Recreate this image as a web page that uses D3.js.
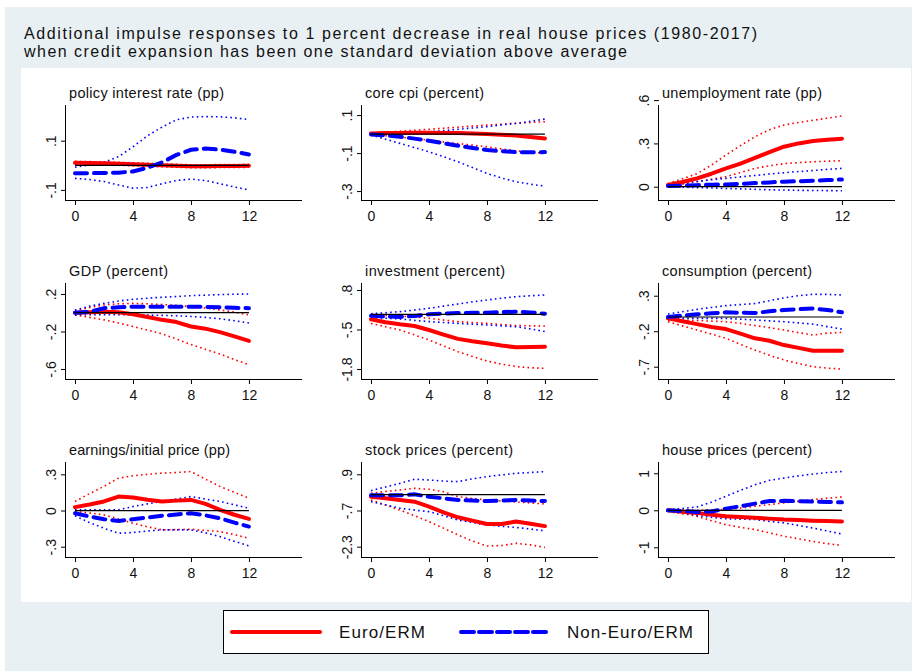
<!DOCTYPE html>
<html><head><meta charset="utf-8">
<script src="https://cdn.jsdelivr.net/npm/d3@7"></script>
<style>body{margin:0;background:#fff}svg{display:block;font-family:Arial,"Liberation Sans",sans-serif}</style>
</head><body><svg id="c" width="912" height="671"></svg>
<script>
const horizons = [0,1,2,3,4,5,6,7,8,9,10,11,12];
const xTicks = [0,4,8,12];
const titleLines = ["Additional impulse responses to 1 percent decrease in real house prices (1980-2017)",
  "when credit expansion has been one standard deviation above average"];
const legendLabels = ["Euro/ERM","Non-Euro/ERM"];
const panelTitles = ["policy interest rate (pp)","core cpi (percent)","unemployment rate (pp)",
  "GDP (percent)","investment (percent)","consumption (percent)",
  "earnings/initial price (pp)","stock prices (percent)","house prices (percent)"];
const yTickValues = [[0.1,-0.1],[0.1,-0.1,-0.3],[0.6,0.3,0],[0.2,-0.2,-0.6],[0.8,-0.5,-1.8],[0.3,-0.2,-0.7],[0.3,0,-0.3],[0.9,-0.7,-2.3],[1,0,-1]];
const yTickLabels = [[".1","-.1"],[".1","-.1","-.3"],[".6",".3","0"],[".2","-.2","-.6"],[".8","-.5","-1.8"],[".3","-.2","-.7"],[".3","0","-.3"],[".9","-.7","-2.3"],["1","0","-1"]];
const yDomains = [[-0.141,0.245],[-0.347,0.153],[-0.092,0.566],[-0.707,0.317],[-2.13,1.03],[-0.873,0.479],[-0.385,0.402],[-2.756,1.444],[-1.262,1.305]];

// Euro/ERM (red): mean, upper, lower
const euroMean = [
 [0.01,0.009,0.008,0.006,0.004,0.002,0.0,-0.002,-0.004,-0.004,-0.003,-0.003,-0.002],
 [0.003,0.005,0.006,0.007,0.007,0.006,0.005,0.003,0.0,-0.003,-0.008,-0.015,-0.023],
 [0.012,0.033,0.058,0.09,0.127,0.16,0.2,0.24,0.277,0.3,0.316,0.326,0.333],
 [0.0,0.006,0.01,0.005,-0.016,-0.045,-0.076,-0.1,-0.147,-0.17,-0.207,-0.253,-0.3],
 [-0.165,-0.26,-0.33,-0.385,-0.517,-0.67,-0.81,-0.89,-0.955,-1.03,-1.087,-1.075,-1.065],
 [-0.019,-0.06,-0.1,-0.14,-0.17,-0.235,-0.3,-0.334,-0.395,-0.435,-0.475,-0.475,-0.475],
 [0.028,0.05,0.075,0.116,0.108,0.09,0.075,0.082,0.088,0.055,0.006,-0.035,-0.069],
 [-0.09,-0.16,-0.235,-0.31,-0.53,-0.78,-1.0,-1.15,-1.3,-1.3,-1.19,-1.29,-1.39],
 [0.0,-0.04,-0.07,-0.12,-0.16,-0.18,-0.2,-0.225,-0.25,-0.265,-0.28,-0.29,-0.3]];
const euroUpper = [
 [0.016,0.015,0.014,0.012,0.01,0.008,0.006,0.004,0.002,0.002,0.003,0.003,0.004],
 [0.003,0.009,0.015,0.02,0.025,0.031,0.036,0.042,0.047,0.052,0.057,0.061,0.065],
 [0.023,0.055,0.09,0.15,0.22,0.285,0.346,0.395,0.427,0.445,0.46,0.475,0.49],
 [0.02,0.055,0.083,0.095,0.1,0.095,0.088,0.078,0.066,0.05,0.03,0.005,-0.023],
 [-0.02,-0.04,-0.056,-0.09,-0.13,-0.19,-0.24,-0.27,-0.3,-0.335,-0.37,-0.38,-0.385],
 [-0.043,-0.046,-0.05,-0.058,-0.066,-0.09,-0.12,-0.15,-0.183,-0.22,-0.254,-0.226,-0.216],
 [0.075,0.14,0.2,0.268,0.288,0.3,0.31,0.315,0.323,0.26,0.2,0.15,0.102],
 [0.06,0.14,0.207,0.28,0.236,0.133,-0.09,-0.17,-0.235,-0.28,-0.32,-0.37,-0.41],
 [0.02,0.01,0.0,0.01,0.02,0.06,0.11,0.155,0.2,0.245,0.29,0.325,0.36]];
const euroLower = [
 [0.004,0.003,0.002,0.0,-0.002,-0.004,-0.006,-0.008,-0.01,-0.01,-0.009,-0.009,-0.008],
 [0.0,-0.008,-0.016,-0.024,-0.032,-0.041,-0.05,-0.058,-0.067,-0.078,-0.088,-0.096,-0.1],
 [0.0,0.018,0.035,0.052,0.07,0.098,0.127,0.145,0.16,0.167,0.173,0.177,0.18],
 [-0.023,-0.05,-0.076,-0.11,-0.147,-0.185,-0.225,-0.28,-0.34,-0.39,-0.44,-0.5,-0.554],
 [-0.3,-0.41,-0.517,-0.68,-0.846,-1.04,-1.23,-1.39,-1.537,-1.64,-1.72,-1.76,-1.78],
 [-0.066,-0.125,-0.183,-0.24,-0.3,-0.385,-0.465,-0.54,-0.606,-0.655,-0.7,-0.72,-0.733],
 [-0.008,-0.02,-0.036,-0.07,-0.105,-0.135,-0.16,-0.158,-0.155,-0.165,-0.174,-0.2,-0.23],
 [-0.235,-0.46,-0.68,-0.93,-1.19,-1.48,-1.78,-2.05,-2.27,-2.25,-2.15,-2.22,-2.33],
 [-0.03,-0.09,-0.16,-0.28,-0.39,-0.46,-0.52,-0.61,-0.7,-0.77,-0.84,-0.9,-0.95]];
// Non-Euro/ERM (blue): mean, upper, lower
const nonEuroMean = [
 [-0.032,-0.032,-0.031,-0.03,-0.025,-0.01,0.012,0.042,0.063,0.068,0.064,0.055,0.044],
 [-0.002,-0.007,-0.014,-0.024,-0.035,-0.048,-0.061,-0.073,-0.084,-0.09,-0.095,-0.096,-0.095],
 [0.005,0.008,0.011,0.014,0.016,0.02,0.025,0.03,0.035,0.038,0.042,0.046,0.05],
 [0.0,0.01,0.048,0.058,0.064,0.064,0.064,0.064,0.064,0.062,0.058,0.053,0.048],
 [-0.045,-0.07,-0.088,-0.056,0.0,0.025,0.04,0.048,0.054,0.07,0.087,0.06,0.02],
 [0.0,0.02,0.038,0.052,0.066,0.06,0.056,0.08,0.1,0.11,0.12,0.1,0.066],
 [-0.022,-0.05,-0.072,-0.086,-0.072,-0.058,-0.044,-0.033,-0.022,-0.04,-0.064,-0.1,-0.133],
 [-0.03,-0.03,-0.03,0.015,-0.09,-0.16,-0.235,-0.26,-0.28,-0.26,-0.235,-0.26,-0.28],
 [0.0,-0.02,-0.045,-0.03,0.045,0.11,0.18,0.25,0.255,0.245,0.235,0.225,0.215]];
const nonEuroUpper = [
 [-0.008,0.002,0.012,0.035,0.075,0.12,0.155,0.185,0.196,0.198,0.197,0.193,0.186],
 [0.0,0.003,0.006,0.009,0.012,0.018,0.025,0.032,0.039,0.048,0.056,0.067,0.079],
 [0.012,0.025,0.037,0.048,0.058,0.068,0.078,0.088,0.097,0.105,0.112,0.12,0.127],
 [0.028,0.07,0.1,0.125,0.143,0.155,0.165,0.173,0.182,0.188,0.193,0.197,0.2],
 [0.02,0.05,0.087,0.14,0.197,0.27,0.34,0.41,0.47,0.53,0.58,0.61,0.635],
 [0.042,0.075,0.108,0.135,0.16,0.175,0.19,0.23,0.27,0.3,0.32,0.318,0.31],
 [0.006,0.006,0.006,0.006,0.033,0.055,0.075,0.095,0.116,0.095,0.075,0.047,0.019],
 [0.177,0.34,0.5,0.68,0.65,0.6,0.576,0.7,0.8,0.87,0.944,0.98,1.02],
 [0.02,0.05,0.09,0.22,0.38,0.54,0.69,0.81,0.87,0.93,0.98,1.02,1.05]];
const nonEuroLower = [
 [-0.053,-0.058,-0.066,-0.08,-0.093,-0.09,-0.075,-0.062,-0.056,-0.062,-0.075,-0.088,-0.1],
 [-0.005,-0.027,-0.049,-0.071,-0.093,-0.119,-0.146,-0.176,-0.207,-0.231,-0.251,-0.264,-0.274],
 [0.0,-0.003,-0.006,-0.009,-0.012,-0.015,-0.018,-0.021,-0.023,-0.025,-0.026,-0.027,-0.028],
 [-0.023,-0.02,-0.02,-0.022,-0.023,-0.025,-0.028,-0.033,-0.04,-0.05,-0.065,-0.085,-0.11],
 [-0.11,-0.13,-0.154,-0.2,-0.24,-0.27,-0.3,-0.325,-0.35,-0.38,-0.41,-0.48,-0.57],
 [-0.019,-0.019,-0.019,-0.019,-0.019,-0.03,-0.042,-0.054,-0.066,-0.083,-0.1,-0.135,-0.17],
 [-0.044,-0.1,-0.147,-0.188,-0.182,-0.17,-0.16,-0.16,-0.16,-0.185,-0.216,-0.255,-0.293],
 [-0.31,-0.45,-0.6,-0.68,-0.75,-0.93,-1.12,-1.23,-1.34,-1.4,-1.45,-1.52,-1.6],
 [0.0,-0.07,-0.14,-0.19,-0.23,-0.24,-0.25,-0.3,-0.34,-0.41,-0.48,-0.56,-0.64]];

const svg = d3.select("#c");
svg.append("rect").attr("x",5).attr("y",7).attr("width",907).attr("height",664).attr("fill","#e9f0f3");
svg.append("rect").attr("x",21).attr("y",68).attr("width",890).attr("height",534).attr("fill","#ffffff");

const titleW = [733,603];
titleLines.forEach((t,i)=>{
  svg.append("text").attr("x",24).attr("y",39+i*18).attr("font-size",16).attr("fill","#111")
    .attr("textLength",titleW[i]).attr("lengthAdjust","spacing").text(t);
});

const colX = [66,362,659];
const rowY = [[105,200],[283,379],[462,557]];
const ptW = [155,119,160,99,140,150,161,148,150];
const red="#ff0000", blue="#0000ff";

panelTitles.forEach((title,p)=>{
  const c=p%3, r=Math.floor(p/3);
  const ax=colX[c], top=rowY[r][0], bot=rowY[r][1];
  const x=d3.scaleLinear().domain([-0.62,15.66]).range([ax,ax+236]);
  const y=d3.scaleLinear().domain(yDomains[p]).range([bot,top]);
  const g=svg.append("g");
  g.append("text").attr("x",ax+3).attr("y",top-7).attr("font-size",14.5).attr("fill","#111")
    .attr("textLength",ptW[p]).attr("lengthAdjust","spacing").text(title);
  const xa=d3.axisBottom(x).tickValues(xTicks).tickSize(5).tickFormat(d3.format("d"));
  const gx=g.append("g").attr("transform",`translate(0,${bot})`).call(xa);
  gx.select(".domain").remove();
  gx.selectAll("text").attr("font-size",14).attr("fill","#111").attr("dy","0.95em").attr("font-family","Arial,'Liberation Sans',sans-serif");
  gx.selectAll("line").attr("stroke","#000");
  g.append("line").attr("x1",ax).attr("x2",ax+236).attr("y1",bot+0.5).attr("y2",bot+0.5).attr("stroke","#000");
  const ya=d3.axisLeft(y).tickValues(yTickValues[p]).tickSize(5).tickFormat((d,i)=>yTickLabels[p][i]);
  const gy=g.append("g").attr("transform",`translate(${ax},0)`).call(ya);
  gy.select(".domain").remove();
  gy.selectAll("line").attr("stroke","#000");
  gy.selectAll("text").attr("font-size",14).attr("fill","#111").attr("font-family","Arial,'Liberation Sans',sans-serif")
    .attr("text-anchor","middle").attr("x",0).attr("dy",0)
    .attr("transform","translate(-10,0) rotate(-90)");
  g.append("line").attr("x1",ax-0.5).attr("x2",ax-0.5).attr("y1",top).attr("y2",bot+1).attr("stroke","#000");

  const line=d3.line().x((d,i)=>x(horizons[i])).y(d=>y(d));
  const dotted=(arr,col)=>g.append("path").attr("d",line(arr)).attr("fill","none").attr("stroke",col)
    .attr("stroke-width",1.6).attr("stroke-dasharray","1.6,3.2");
  dotted(euroUpper[p],red); dotted(euroLower[p],red);
  dotted(nonEuroUpper[p],blue); dotted(nonEuroLower[p],blue);
  g.append("path").attr("d",line(euroMean[p])).attr("fill","none").attr("stroke",red)
    .attr("stroke-width",4).attr("stroke-linejoin","round").attr("stroke-linecap","round");
  g.append("path").attr("d",line(nonEuroMean[p])).attr("fill","none").attr("stroke",blue)
    .attr("stroke-width",4).attr("stroke-dasharray","12,7").attr("stroke-linecap","round");
  g.append("line").attr("x1",x(0)).attr("x2",x(12)).attr("y1",y(0)).attr("y2",y(0)).attr("stroke","#000").attr("stroke-width",1.2);
});

const lg=svg.append("g");
lg.append("rect").attr("x",223.5).attr("y",610.5).attr("width",485).attr("height",43).attr("fill","#fff").attr("stroke","#000");
lg.append("line").attr("x1",232).attr("x2",320).attr("y1",632).attr("y2",632).attr("stroke",red).attr("stroke-width",4).attr("stroke-linecap","round");
lg.append("line").attr("x1",461).attr("x2",548).attr("y1",632).attr("y2",632).attr("stroke",blue).attr("stroke-width",4).attr("stroke-dasharray","13,5").attr("stroke-linecap","round");
lg.append("text").attr("x",339).attr("y",638).attr("font-size",17).attr("fill","#111").attr("textLength",86).attr("lengthAdjust","spacing").text(legendLabels[0]);
lg.append("text").attr("x",567).attr("y",638).attr("font-size",17).attr("fill","#111").attr("textLength",126).attr("lengthAdjust","spacing").text(legendLabels[1]);
</script></body></html>
